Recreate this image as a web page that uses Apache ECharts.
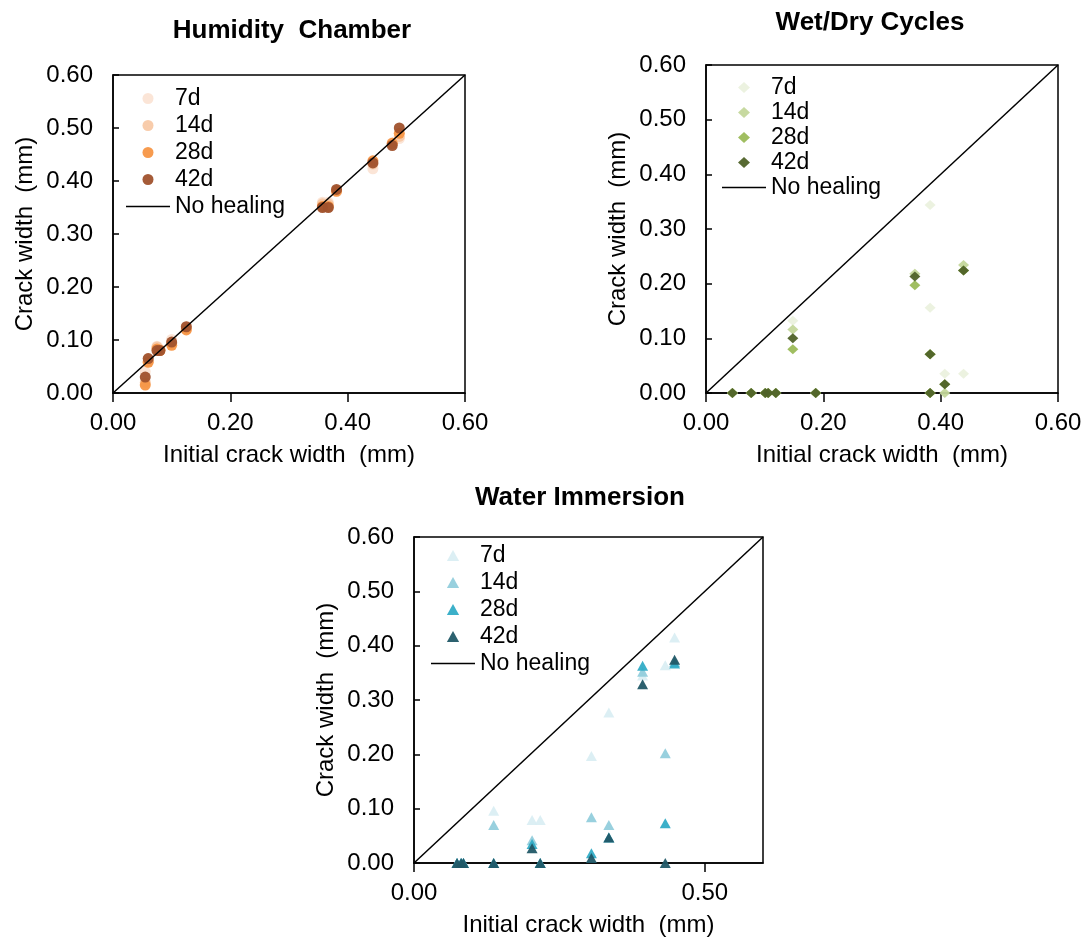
<!DOCTYPE html>
<html lang="en">
<head>
<meta charset="UTF-8">
<title>Crack healing</title>
<script src="https://cdn.jsdelivr.net/npm/echarts@6/dist/echarts.min.js"></script>
<style>
    body { margin: 0; background: #fff; }
    #chart { width: 1091px; height: 945px; }
</style>
</head>
<body>

<div id="chart"></div>

<script>
// Humidity chamber: initial crack width vs crack width at each age (mm)
var humX  = [0.055, 0.060, 0.075, 0.080, 0.100, 0.125, 0.357, 0.367, 0.381, 0.443, 0.476, 0.488];
var hum7  = [0.040, 0.065, 0.088, 0.082, 0.101, 0.125, 0.360, 0.360, 0.382, 0.423, 0.472, 0.480];
var hum14 = [0.020, 0.060, 0.087, 0.082, 0.094, 0.121, 0.357, 0.357, 0.380, 0.432, 0.471, 0.484];
var hum28 = [0.015, 0.058, 0.083, 0.080, 0.090, 0.119, 0.352, 0.352, 0.381, 0.438, 0.471, 0.490];
var hum42 = [0.030, 0.065, 0.080, 0.080, 0.096, 0.125, 0.350, 0.350, 0.384, 0.434, 0.467, 0.500];

// Wet/dry cycles
var wdX  = [0.045, 0.077, 0.101, 0.106, 0.119, 0.148, 0.187, 0.356, 0.382, 0.382, 0.407, 0.439];
var wd7  = [0, 0, 0, 0, 0, 0.132, 0, 0.218, 0.344, 0.156, 0.035, 0.035];
var wd14 = [0, 0, 0, 0, 0, 0.116, 0, 0.218, 0.071, 0, 0, 0.234];
var wd28 = [0, 0, 0, 0, 0, 0.080, 0, 0.197, 0.071, 0, 0.016, 0.224];
var wd42 = [0, 0, 0, 0, 0, 0.100, 0, 0.213, 0.071, 0, 0.016, 0.224];

// Water immersion
var imX  = [0.074, 0.081, 0.085, 0.137, 0.203, 0.217, 0.305, 0.335, 0.393, 0.432, 0.448];
var im7  = [0, 0, 0, 0.096, 0.079, 0.079, 0.197, 0.277, 0.345, 0.364, 0.415];
var im14 = [0, 0, 0, 0.070, 0.042, 0, 0.084, 0.070, 0.352, 0.202, 0.370];
var im28 = [0, 0, 0, 0, 0.035, 0, 0.018, 0.047, 0.363, 0.073, 0.367];
var im42 = [0, 0, 0, 0, 0.027, 0, 0.009, 0.047, 0.329, 0, 0.374];

var ages = ['7d', '14d', '28d', '42d'];
var noHealing = [[0, 0], [0.6, 0.6]];

var chartDom = document.getElementById('chart');
var myChart = echarts.init(chartDom);

// legend icons as paths so they keep their shape
var diamondIcon = 'path://M5,0 L10,4.6 L5,9.2 L0,4.6 Z';
var triangleIcon = 'path://M5,0 L10,9 L0,9 Z';
var lineIcon = 'path://M0,0 H44 V1.5 H0 Z';

function pairs(xs, ys) {
    return xs.map(function (x, i) { return [x, ys[i]]; });
}

function xAxis(gi, interval, ticks) {
    var ax = {
        gridIndex: gi, type: 'value', min: 0, max: 0.6, interval: interval,
        name: 'Initial crack width  (mm)', nameLocation: 'middle', nameGap: 50,
        nameTextStyle: { fontSize: 24, color: '#000' },
        axisLine: { lineStyle: { color: '#000', width: 1.5 } },
        axisTick: { inside: false, length: 9, lineStyle: { color: '#000', width: 1.5 } },
        axisLabel: { fontSize: 24, color: '#000', margin: 18, formatter: function (v) { return v.toFixed(2); } },
        splitLine: { show: false }
    };
    if (ticks) {
        ax.axisTick.customValues = ticks;
        ax.axisLabel.customValues = ticks;
    }
    return ax;
}

function yAxis(gi) {
    return {
        gridIndex: gi, type: 'value', min: 0, max: 0.6, interval: 0.1,
        name: 'Crack width  (mm)', nameLocation: 'middle', nameGap: 76,
        nameTextStyle: { fontSize: 24, color: '#000' },
        axisLine: { lineStyle: { color: '#000', width: 1.5 } },
        axisTick: { inside: true, length: 6, lineStyle: { color: '#000', width: 1.5 } },
        axisLabel: { fontSize: 24, color: '#000', margin: 20, formatter: function (v) { return v.toFixed(2); } },
        splitLine: { show: false }
    };
}

function scatter(prefix, age, gi, xs, ys, color, symbol, size) {
    return {
        name: prefix + age, type: 'scatter', xAxisIndex: gi, yAxisIndex: gi,
        data: pairs(xs, ys), symbol: symbol, symbolSize: size, clip: false,
        itemStyle: { color: color, opacity: 0.95 }
    };
}

function line(prefix, gi) {
    return {
        name: prefix + 'No healing', type: 'line', xAxisIndex: gi, yAxisIndex: gi,
        data: noHealing, symbol: 'none', color: '#000',
        lineStyle: { color: '#000', width: 1.5 }
    };
}

function legend(prefix, left, top, lh, icon) {
    var items = ages.map(function (a) { return { name: prefix + a, icon: icon }; });
    items.push({ name: prefix + 'No healing', icon: lineIcon });
    return {
        orient: 'vertical', left: left, top: top, itemWidth: 44, itemHeight: 11, itemGap: 0,
        symbolKeepAspect: true,
        data: items,
        formatter: function (n) { return n.slice(1); },
        textStyle: { fontSize: 23, color: '#000', lineHeight: lh },
        selectedMode: false
    };
}

var humColors = ['#FBE4D5', '#F8C9A6', '#F79646', '#A0522D'];
var wdColors = ['#EBF1DE', '#C4D79B', '#9BBB59', '#4F6228'];
var imColors = ['#DAEEF3', '#92CDDC', '#31ACC6', '#215967'];

var humYs = [hum7, hum14, hum28, hum42];
var wdYs = [wd7, wd14, wd28, wd42];
var imYs = [im7, im14, im28, im42];

var series = [];
series.push(line('h', 0), line('w', 1), line('i', 2));
ages.forEach(function (a, k) {
    series.push(scatter('h', a, 0, humX, humYs[k], humColors[k], 'circle', 11));
    series.push(scatter('w', a, 1, wdX, wdYs[k], wdColors[k], 'diamond', [11, 10]));
    series.push(scatter('i', a, 2, imX, imYs[k], imColors[k], 'triangle', [11, 10]));
});

var option = {
    textStyle: { fontFamily: 'Liberation Sans, Arial, sans-serif' },
    animation: false,
    title: [
        { text: 'Humidity  Chamber', left: 287, top: 13, textAlign: 'center',
          textStyle: { fontSize: 26, fontWeight: 'bold', color: '#000' } },
        { text: 'Wet/Dry Cycles', left: 865, top: 5, textAlign: 'center',
          textStyle: { fontSize: 26, fontWeight: 'bold', color: '#000' } },
        { text: 'Water Immersion', left: 575, top: 480, textAlign: 'center',
          textStyle: { fontSize: 26, fontWeight: 'bold', color: '#000' } }
    ],
    legend: [
        legend('h', 121, 80, 27, 'circle'),
        legend('w', 717, 70, 25, diamondIcon),
        legend('i', 426, 537, 27, triangleIcon)
    ],
    grid: [
        { left: 113, top: 75, width: 352, height: 318, show: true, borderColor: '#000', borderWidth: 1.5 },
        { left: 706, top: 65, width: 352, height: 328, show: true, borderColor: '#000', borderWidth: 1.5 },
        { left: 414, top: 537, width: 349, height: 326, show: true, borderColor: '#000', borderWidth: 1.5 }
    ],
    xAxis: [xAxis(0, 0.2), xAxis(1, 0.2), xAxis(2, 0.5, [0, 0.5])],
    yAxis: [yAxis(0), yAxis(1), yAxis(2)],
    series: series
};

myChart.setOption(option);
</script>

</body>
</html>
